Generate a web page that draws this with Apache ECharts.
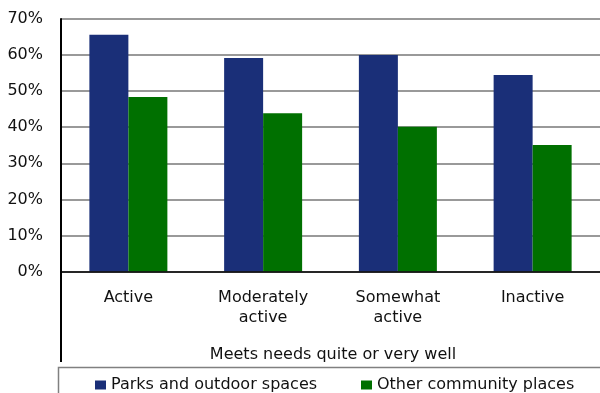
<!DOCTYPE html>
<html>
<head>
<meta charset="utf-8">
<script src="https://cdn.jsdelivr.net/npm/echarts@6/dist/echarts.min.js"></script>
<style>html,body{margin:0;padding:0;background:#fff;}#c{width:600px;height:393px;}</style>
</head>
<body>
<div id="c"></div>
<script>
const categories = ['Active', 'Moderately\nactive', 'Somewhat\nactive', 'Inactive'];
const parksValues = [65.6, 59.2, 60.0, 54.5];
const otherValues = [48.4, 43.9, 40.1, 35.1];
const seriesNames = ['Parks and outdoor spaces', 'Other community places'];
const yTicks = [0, 10, 20, 30, 40, 50, 60, 70];
const axisTitle = 'Meets needs quite or very well';

const FONT = '"DejaVu Sans", sans-serif';
const chart = echarts.init(document.getElementById('c'), null, {renderer: 'canvas'});
chart.setOption({
  animation: false,
  backgroundColor: '#fff',
  grid: {left: 61, top: 19, width: 544, height: 252.5, containLabel: false},
  xAxis: {
    type: 'category',
    data: categories,
    z: 5,
    axisLine: {lineStyle: {color: '#000', width: 1.5}},
    axisTick: {show: false},
    axisLabel: {color: '#111', fontFamily: FONT, fontSize: 16, lineHeight: 20, margin: 16.5, interval: 0}
  },
  yAxis: {
    type: 'value',
    min: yTicks[0], max: yTicks[yTicks.length - 1], interval: 10,
    axisLine: {show: true, lineStyle: {color: '#000', width: 2}},
    axisTick: {show: false},
    splitLine: {lineStyle: {color: '#999', width: 2}},
    axisLabel: {color: '#111', fontFamily: FONT, fontSize: 16, margin: 18, formatter: v => v + '%'}
  },
  legend: [
    {data: [seriesNames[0]], left: 95, top: 377, padding: 0, itemWidth: 11, itemHeight: 9, icon: 'rect',
     textStyle: {color: '#111', fontFamily: FONT, fontSize: 16, padding: [8, 0, 0, 0]}},
    {data: [seriesNames[1]], left: 361, top: 377, padding: 0, itemWidth: 11, itemHeight: 9, icon: 'rect',
     textStyle: {color: '#111', fontFamily: FONT, fontSize: 16, padding: [8, 0, 0, 0]}}
  ],
  series: [
    {name: seriesNames[0], type: 'bar', data: parksValues, barWidth: 39, barGap: '0%', itemStyle: {color: '#1a2f78'}},
    {name: seriesNames[1], type: 'bar', data: otherValues, barWidth: 39, barGap: '0%', itemStyle: {color: '#007000'}}
  ],
  graphic: [
    {type: 'line', shape: {x1: 61, y1: 19, x2: 61, y2: 362}, style: {stroke: '#000', lineWidth: 2}, z: 10},
    {type: 'text', x: 333, y: 355, style: {text: axisTitle, font: '16px ' + FONT, fill: '#111', align: 'center', verticalAlign: 'middle'}},
    {type: 'rect', shape: {x: 58.5, y: 367.5, width: 560, height: 40}, style: {fill: 'none', stroke: '#808080', lineWidth: 1.5}, z: -1}
  ]
});
</script>
</body>
</html>
